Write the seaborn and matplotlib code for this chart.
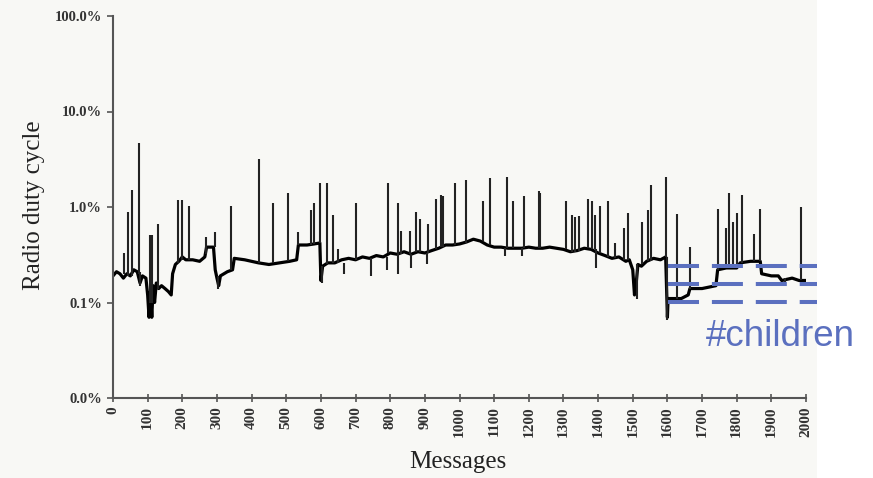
import matplotlib
matplotlib.use("Agg")
import matplotlib.pyplot as plt
import matplotlib.patches as mpatches
import pandas as pd
import seaborn as sns

# baseline of the duty cycle trace (message number -> duty cycle in %)
base_msgs = [0, 10, 20, 30, 40, 50, 60, 70, 78, 85, 95, 100, 104, 108, 112, 116, 120, 125,
             132, 140, 150, 160, 168, 172, 180, 190, 200, 210, 230, 250, 265, 270, 290, 295,
             300, 305, 310, 330, 345, 350, 380, 400, 420, 450, 480, 510, 530, 535, 560, 580,
             597, 600, 605, 620, 640, 660, 680, 700, 720, 740, 760, 780, 800, 820, 840, 860,
             880, 900, 920, 940, 960, 980, 1000, 1020, 1040, 1060, 1080, 1100, 1120, 1140,
             1160, 1180, 1200, 1220, 1240, 1260, 1280, 1300, 1320, 1340, 1360, 1380, 1400,
             1420, 1440, 1460, 1480, 1490, 1500, 1505, 1510, 1515, 1525, 1540, 1560, 1580,
             1595, 1600, 1602, 1620, 1640, 1660, 1665, 1700, 1740, 1745, 1770, 1800, 1810,
             1840, 1868, 1872, 1900, 1920, 1930, 1960, 1980, 2000]
base_vals = [0.19, 0.21, 0.20, 0.18, 0.20, 0.19, 0.22, 0.21, 0.16, 0.19, 0.18, 0.12, 0.07,
             0.13, 0.07, 0.15, 0.10, 0.16, 0.14, 0.15, 0.14, 0.13, 0.12, 0.20, 0.25, 0.27,
             0.30, 0.28, 0.28, 0.27, 0.30, 0.38, 0.38, 0.22, 0.18, 0.15, 0.19, 0.21, 0.22,
             0.29, 0.28, 0.27, 0.26, 0.25, 0.26, 0.27, 0.28, 0.40, 0.40, 0.41, 0.42, 0.17,
             0.24, 0.26, 0.26, 0.28, 0.29, 0.28, 0.30, 0.29, 0.31, 0.30, 0.33, 0.32, 0.34,
             0.32, 0.34, 0.33, 0.35, 0.37, 0.40, 0.40, 0.41, 0.43, 0.46, 0.44, 0.40, 0.38,
             0.38, 0.37, 0.37, 0.37, 0.38, 0.37, 0.37, 0.38, 0.37, 0.36, 0.34, 0.35, 0.37,
             0.36, 0.33, 0.31, 0.29, 0.30, 0.27, 0.28, 0.22, 0.12, 0.16, 0.25, 0.24, 0.27,
             0.29, 0.28, 0.30, 0.07, 0.11, 0.11, 0.11, 0.12, 0.14, 0.14, 0.15, 0.22, 0.23,
             0.23, 0.26, 0.27, 0.27, 0.20, 0.19, 0.19, 0.17, 0.18, 0.17, 0.17]

# upward spikes: position, bottom and peak (%)
spike_msgs = [32, 44, 54, 76, 107, 112, 129, 188, 198, 220, 267, 294, 340, 421, 461, 506,
              535, 571, 581, 597, 617, 634, 650, 701, 793, 823, 830, 858, 874, 886, 910, 931,
              946, 951, 987, 1018, 1067, 1088, 1136, 1155, 1187, 1228, 1233, 1307, 1326,
              1332, 1345, 1370, 1382, 1390, 1405, 1430, 1450, 1476, 1487, 1528, 1543, 1552,
              1596, 1627, 1665, 1747, 1768, 1779, 1790, 1800, 1816, 1851, 1868, 1986]
spike_lo = [0.20, 0.19, 0.19, 0.20, 0.10, 0.10, 0.14, 0.26, 0.28, 0.28, 0.32, 0.38, 0.22,
            0.26, 0.26, 0.27, 0.40, 0.40, 0.41, 0.42, 0.25, 0.26, 0.26, 0.28, 0.33, 0.32,
            0.32, 0.32, 0.34, 0.34, 0.33, 0.36, 0.38, 0.38, 0.40, 0.42, 0.44, 0.40, 0.37,
            0.37, 0.37, 0.37, 0.37, 0.36, 0.34, 0.34, 0.35, 0.37, 0.36, 0.36, 0.33, 0.30,
            0.29, 0.28, 0.28, 0.25, 0.27, 0.27, 0.30, 0.11, 0.14, 0.22, 0.23, 0.23, 0.23,
            0.23, 0.26, 0.27, 0.27, 0.17]
spike_hi = [0.33, 0.89, 1.50, 4.70, 0.51, 0.51, 0.66, 1.18, 1.18, 1.02, 0.49, 0.55, 1.02,
            3.20, 1.10, 1.40, 0.55, 0.93, 1.10, 1.78, 1.78, 0.82, 0.36, 1.10, 1.80, 1.10,
            0.56, 0.56, 0.89, 0.75, 0.67, 1.21, 1.34, 1.30, 1.80, 1.92, 1.15, 2.00, 2.06,
            1.15, 1.30, 1.47, 1.40, 1.15, 0.82, 0.78, 0.80, 1.20, 1.15, 0.82, 1.02, 1.15,
            0.42, 0.60, 0.87, 0.70, 0.93, 1.70, 2.06, 0.85, 0.38, 0.95, 0.60, 1.40, 0.70,
            0.87, 1.35, 0.52, 0.95, 1.00]

# downward dips: position, top and bottom (%)
dip_msgs = [78, 303, 602, 668, 745, 790, 823, 860, 905, 1132, 1180, 1395, 1511, 1600, 1940]
dip_hi = [0.21, 0.19, 0.24, 0.26, 0.29, 0.30, 0.32, 0.32, 0.33, 0.37, 0.37, 0.36, 0.25, 0.30, 0.18]
dip_lo = [0.15, 0.14, 0.16, 0.20, 0.19, 0.22, 0.20, 0.23, 0.25, 0.31, 0.31, 0.23, 0.11, 0.066, 0.15]

# "#children" marker levels
children_levels = [0.241, 0.158, 0.101]
children_span = [1602, 2075]

ytick_vals = [0.01, 0.1, 1, 10, 100]
ytick_labels = ["0.0%", "0.1%", "1.0%", "10.0%", "100.0%"]
xtick_vals = list(range(0, 2001, 100))

df = pd.DataFrame({"msg": base_msgs, "duty": base_vals})

sns.set_style("ticks")
plt.rcParams["font.family"] = ["Liberation Serif", "DejaVu Serif"]

fig = plt.figure(figsize=(8.73, 4.78), dpi=100, facecolor="#f8f8f5")
fig.patches.append(mpatches.Rectangle((817 / 873, 0), 1, 1, transform=fig.transFigure,
                                      facecolor="white", edgecolor="none", zorder=0))
ax = fig.add_axes([113 / 873, 1 - 398 / 478, 693 / 873, 382 / 478])
ax.set_facecolor("none")

sns.lineplot(data=df, x="msg", y="duty", ax=ax, color="black", linewidth=2.3, sort=False)
ax.vlines(spike_msgs, spike_lo, spike_hi, color="#222222", linewidth=1.5)
ax.vlines(dip_msgs, dip_lo, dip_hi, color="#222222", linewidth=1.5)

ax.set_yscale("log")
ax.set_ylim(0.01, 100)
ax.set_xlim(0, 2000)
ax.set_yticks(ytick_vals)
ax.set_yticklabels(ytick_labels)
ax.minorticks_off()
ax.set_xticks(xtick_vals)
ax.set_xticklabels([str(v) for v in xtick_vals], rotation=90)
ax.tick_params(axis="y", direction="out", length=4, width=1.2, color="#555555",
               labelsize=10.5, pad=4)
ax.tick_params(axis="x", direction="inout", length=6, width=1.2, color="#555555",
               labelsize=11, pad=3)
for lab in ax.get_xticklabels() + ax.get_yticklabels():
    lab.set_fontweight("bold")
    lab.set_color("#333333")

sns.despine(ax=ax)
for side in ["left", "bottom"]:
    ax.spines[side].set_color("#555555")
    ax.spines[side].set_linewidth(1.5)

ax.set_xlabel("Messages", fontsize=18, color="#222222")
ax.set_ylabel("Radio duty cycle", fontsize=18, color="#222222")
ax.xaxis.set_label_coords(0.498, -0.14)
ax.yaxis.set_label_coords(-0.098, 0.505)

ax.hlines(children_levels, children_span[0], children_span[1], colors="#5b70bf",
          linewidth=2.9, linestyles=(0, (7.7, 3.2)), clip_on=False, zorder=5)
fig.text(706 / 873, 1 - 336 / 478, "#children", color="#5b70bf", fontsize=26.5,
         family=["Liberation Sans", "DejaVu Sans"], ha="left", va="center")

fig.savefig("out.png", dpi=100, facecolor=fig.get_facecolor())
